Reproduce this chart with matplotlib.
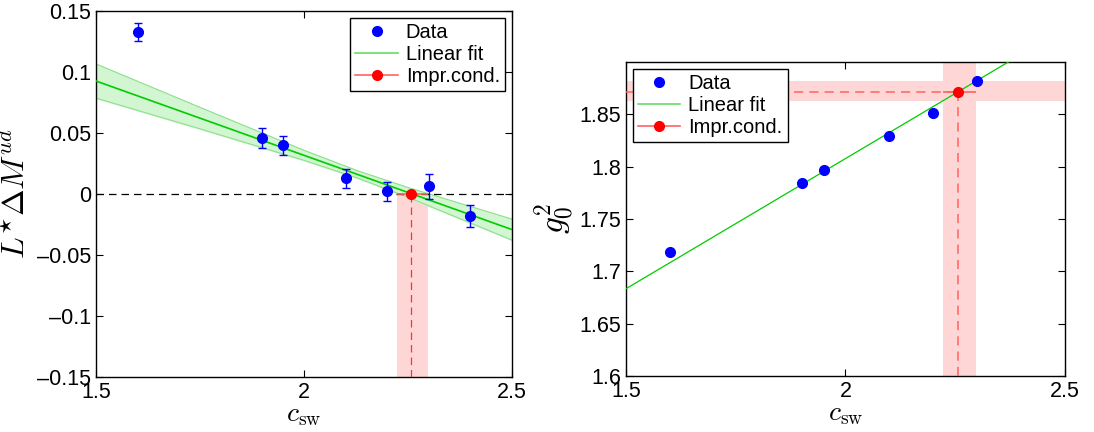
import matplotlib
matplotlib.use('Agg')
import matplotlib.pyplot as plt
from matplotlib.ticker import FuncFormatter
from matplotlib.lines import Line2D

plt.rcParams['font.family'] = ['Liberation Sans', 'DejaVu Sans']
plt.rcParams['mathtext.fontset'] = 'cm'

# left panel: L* Delta M^ud vs c_sw
csw_l = [1.6, 1.9, 1.95, 2.1, 2.2, 2.3, 2.4]
dm = [0.1328, 0.0459, 0.0399, 0.0131, 0.0022, 0.0063, -0.0178]
dm_err = [0.0070, 0.0080, 0.0078, 0.0078, 0.0080, 0.0100, 0.0090]
fit_l = (0.0926, -0.1218)          # value at c_sw=1.5, slope
band_x = [1.5, 1.75, 2.0, 2.13, 2.25, 2.5]
band_hi = [0.1066, 0.0710, 0.0358, 0.0189, 0.0053, -0.0206]
band_lo = [0.0786, 0.0534, 0.0276, 0.0129, -0.0027, -0.0378]
impr_l = 2.258
impr_l_rng = (2.224, 2.298)

# right panel: g0^2 vs c_sw
csw_r = [1.6, 1.9, 1.95, 2.1, 2.2, 2.3]
g02 = [1.7185, 1.7844, 1.7965, 1.8296, 1.8516, 1.8822]
fit_r = (1.6834, 0.2487)
impr_r = (2.2563, 1.8717)
impr_r_xrng = (2.223, 2.2965)
impr_r_yrng = (1.8627, 1.8815)

blue = '#0000ff'
green = '#00cc00'
pink = '#ffd6d6'
lred = '#ff6262'

fig = plt.figure(figsize=(10.94, 4.32), dpi=100)
ax1 = fig.add_axes([0.0878, 0.1273, 0.3803, 0.8472])
ax2 = fig.add_axes([0.5722, 0.1296, 0.4013, 0.7269])

fmt = FuncFormatter(lambda v, p: ('%g' % round(v, 4)).replace('-', '\u2013'))

# ---- left
ax1.fill_between(impr_l_rng, [-0.15, -0.15], [0, 0], color=pink, lw=0, zorder=1)
ax1.fill_between(band_x, band_lo, band_hi, color='#d2f5d2', zorder=2)
ax1.plot(band_x, band_hi, color='#8fe08f', lw=0.8, zorder=2)
ax1.plot(band_x, band_lo, color='#8fe08f', lw=0.8, zorder=2)
ax1.axhline(0, color='k', ls=(0, (6, 4)), lw=0.9, zorder=3)
ax1.plot([impr_l, impr_l], [-0.15, 0], color='#ff3030', ls=(0, (6, 4)), lw=0.9, zorder=3)
xs = [1.5, 2.5]
ax1.plot(xs, [fit_l[0] + fit_l[1] * (x - 1.5) for x in xs], color=green, lw=1.2, zorder=4)
ax1.errorbar(csw_l, dm, yerr=dm_err, fmt='o', color=blue, ms=7, capsize=3, elinewidth=1, zorder=5)
ax1.errorbar([impr_l], [0], xerr=[[impr_l - impr_l_rng[0]], [impr_l_rng[1] - impr_l]], fmt='o', color='#ff0000',
             ecolor=lred, ms=7, capsize=0, elinewidth=1.2, zorder=6)
ax1.set_xlim(1.5, 2.5)
ax1.set_ylim(-0.15, 0.15)
ax1.set_yticks([-0.15, -0.1, -0.05, 0, 0.05, 0.1, 0.15])
ax1.set_xlabel(r'$c_{\rm sw}$', fontsize=20)
ax1.xaxis.set_label_coords(0.5, -0.067)
ax1.set_ylabel(r'$L^{\star}\Delta M^{ud}$', fontsize=23, labelpad=4)

# ---- right
ax2.axvspan(impr_r_xrng[0], impr_r_xrng[1], color=pink, lw=0, zorder=1)
ax2.axhspan(impr_r_yrng[0], impr_r_yrng[1], color=pink, lw=0, zorder=1)
ax2.plot([1.5, impr_r[0]], [impr_r[1], impr_r[1]], color=lred, ls=(0, (6, 4)), lw=1.1, zorder=3)
ax2.plot([impr_r[0], impr_r[0]], [1.6, impr_r[1]], color=lred, ls=(0, (6, 4)), lw=1.1, zorder=3)
ax2.plot(xs, [fit_r[0] + fit_r[1] * (x - 1.5) for x in xs], color=green, lw=0.9, zorder=4)
ax2.plot(csw_r, g02, 'o', color=blue, ms=7, zorder=5)
ax2.errorbar([impr_r[0]], [impr_r[1]], xerr=[[impr_r[0] - impr_r_xrng[0]], [impr_r_xrng[1] - impr_r[0]]],
             fmt='o', color='#ff0000', ecolor=lred, ms=7, capsize=0, elinewidth=1.2, zorder=6)
ax2.set_xlim(1.5, 2.5)
ax2.set_ylim(1.6, 1.9)
ax2.set_yticks([1.6, 1.65, 1.7, 1.75, 1.8, 1.85])
ax2.set_xlabel(r'$c_{\rm sw}$', fontsize=20)
ax2.xaxis.set_label_coords(0.5, -0.08)
ax2.set_ylabel(r'$g_0^2$', fontsize=24, labelpad=2)

handles = [Line2D([], [], ls='none', marker='o', color=blue, ms=7),
           Line2D([], [], color='#66dd66', lw=1.2),
           Line2D([], [], color=lred, lw=1.2, marker='o', mfc='#ff0000', mec='#ff0000', ms=7)]
labels = ['Data', 'Linear fit', 'Impr.cond.']

for ax, loc in ((ax1, 'upper right'), (ax2, 'upper left')):
    ax.set_xticks([1.5, 2, 2.5])
    ax.xaxis.set_major_formatter(fmt)
    ax.yaxis.set_major_formatter(fmt)
    ax.tick_params(direction='in', top=True, right=True, labelsize=15.5, length=5, width=0.8)
    for s in ax.spines.values():
        s.set_linewidth(1.0)
    leg = ax.legend(handles, labels, loc=loc, fontsize=14.5, fancybox=False, framealpha=1,
                    edgecolor='k', borderaxespad=0.35, handlelength=2.1, handletextpad=0.4,
                    borderpad=0.25, labelspacing=0.15)
    leg.get_frame().set_linewidth(1.0)

fig.savefig('out.png', dpi=100)
